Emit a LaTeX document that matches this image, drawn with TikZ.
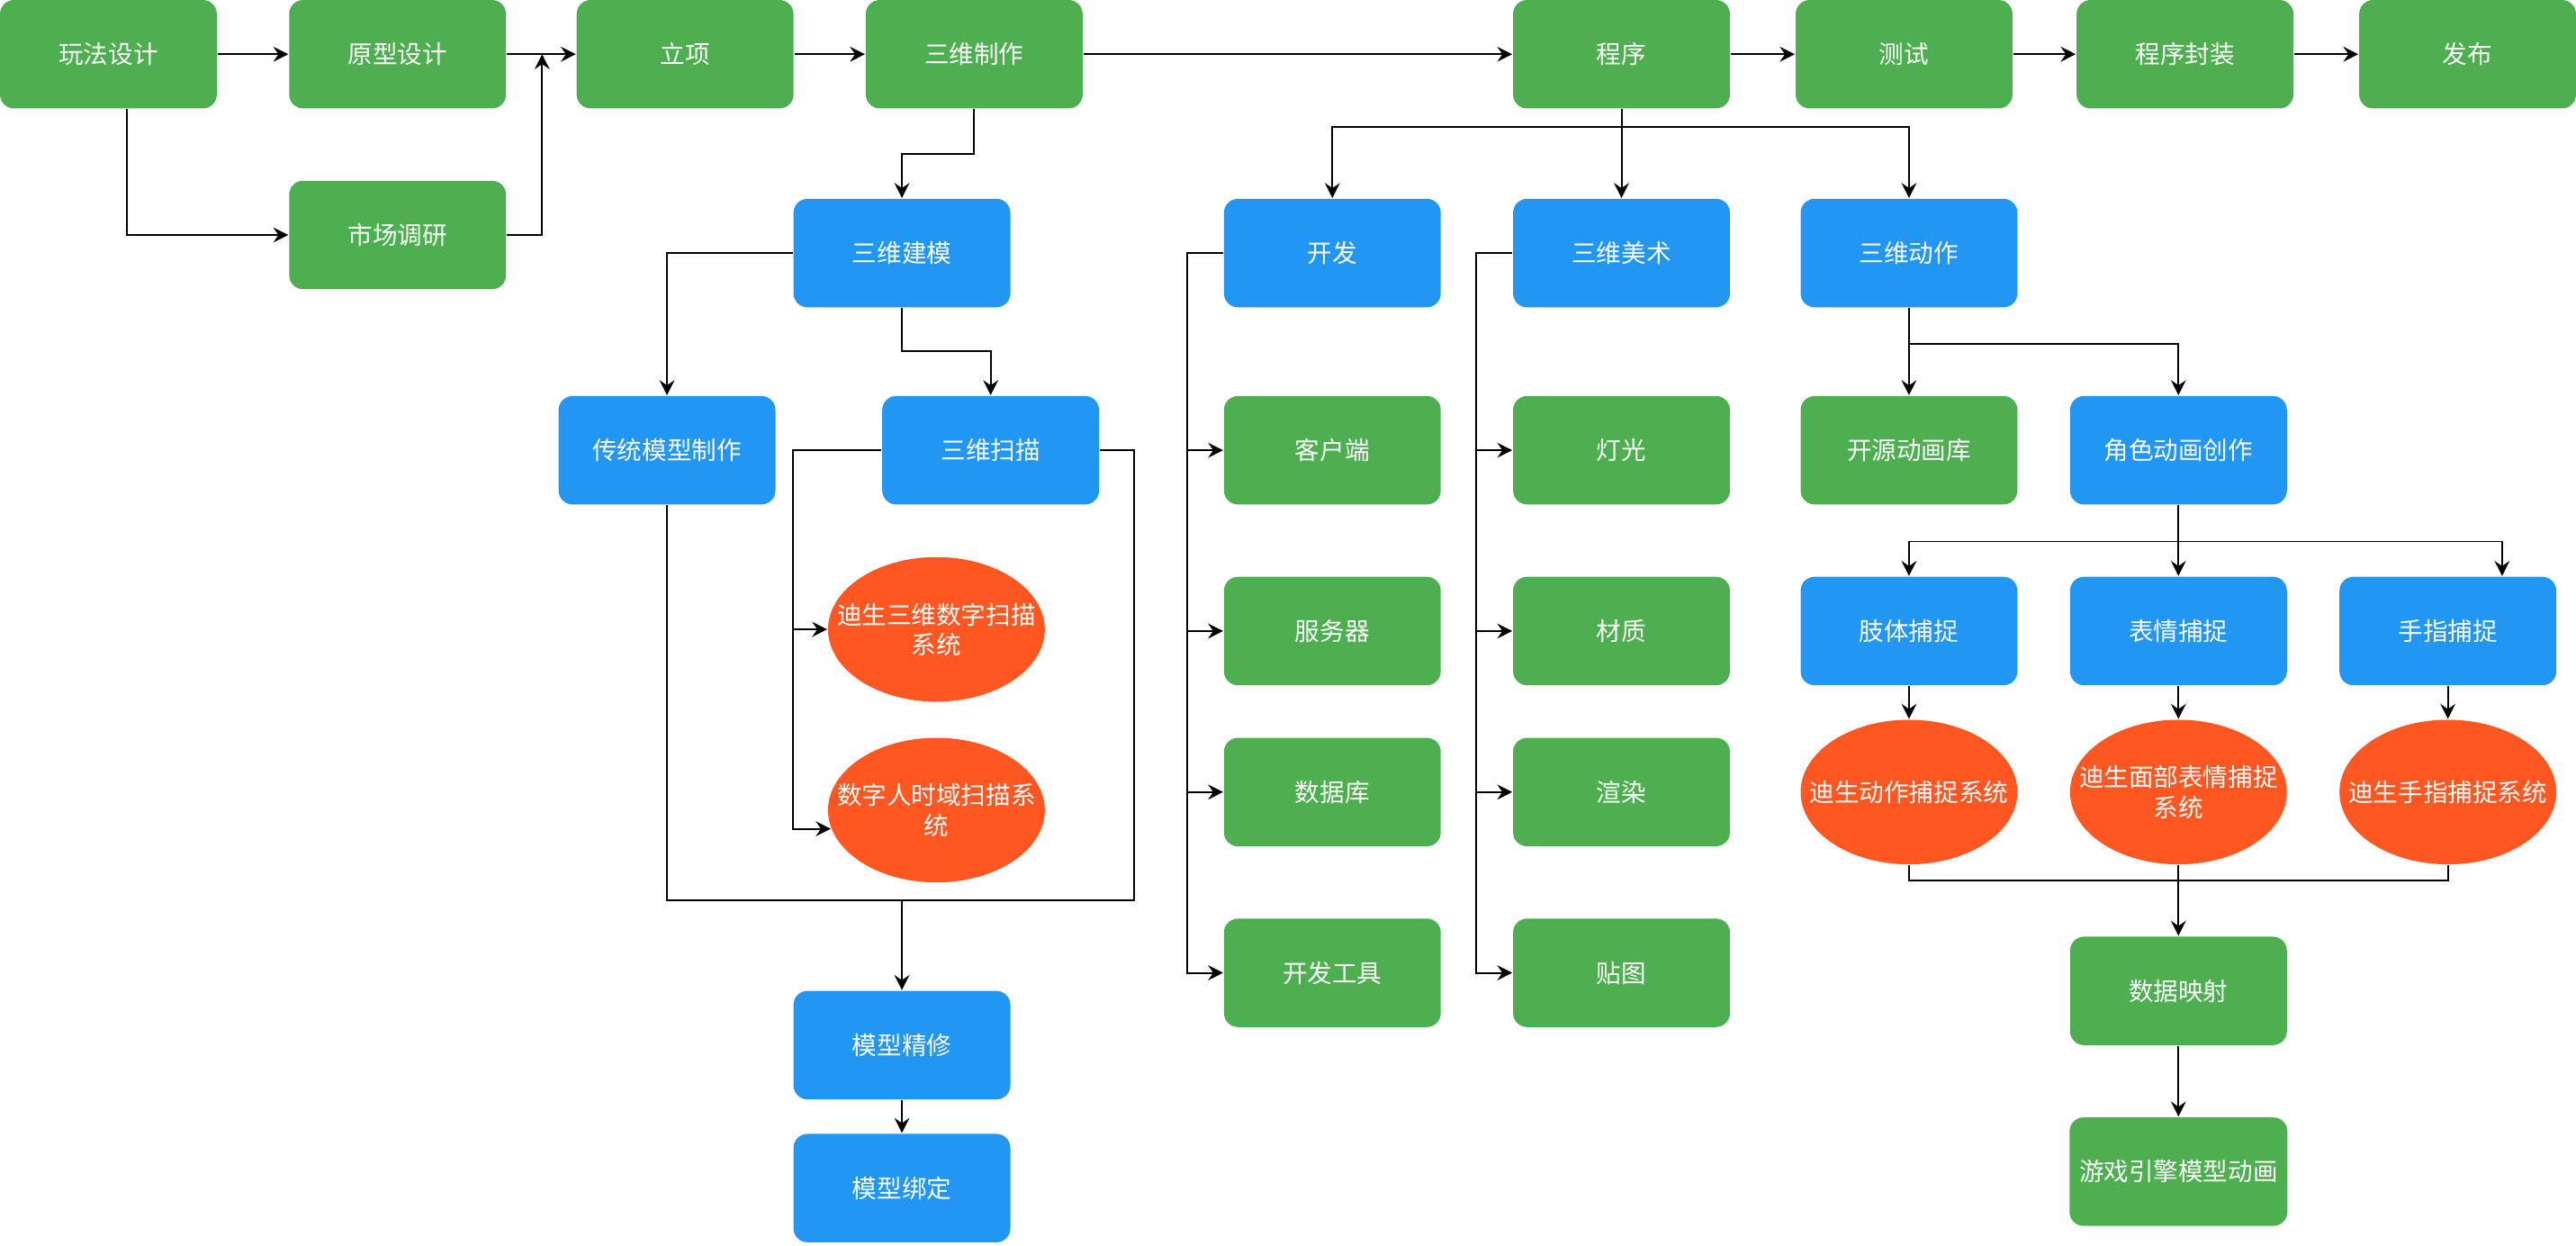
\documentclass[tikz,border=0pt]{standalone}
\usepackage{fontspec}
\setmainfont{Noto Sans CJK SC}
\usetikzlibrary{shapes.geometric,arrows.meta}
\definecolor{boxgreen}{RGB}{77,175,80}
\definecolor{boxblue}{RGB}{33,150,243}
\definecolor{boxorange}{RGB}{255,87,34}

\begin{document}
\begin{tikzpicture}[x=0.02cm,y=-0.02cm,line width=0.6pt,
    green node/.style={rectangle,rounded corners=0.17cm,fill=boxgreen,text=white,minimum width=2.64cm,minimum height=1.32cm,font=\fontsize{8.6pt}{10.4pt}\selectfont},
    blue node/.style={green node,fill=boxblue},
    orange node/.style={ellipse,fill=boxorange,text=white,minimum width=2.64cm,minimum height=1.76cm,inner xsep=-0.3cm,align=center,font=\fontsize{8.6pt}{10.4pt}\selectfont},
    arr/.style={-{Stealth[length=5.2pt,width=5.2pt,inset=1.8pt]}}]
    \useasboundingbox (0,0) rectangle (1568,758);

    \node[green node] (wf) at (66,33) {玩法设计};
    \node[green node] (yx) at (242,33) {原型设计};
    \node[green node] (sc) at (242,143) {市场调研};
    \node[green node] (lx) at (417,33) {立项};
    \node[green node] (zz) at (593,33) {三维制作};
    \node[green node] (cx) at (987,33) {程序};
    \node[green node] (cs) at (1159,33) {测试};
    \node[green node] (fz) at (1330,33) {程序封装};
    \node[green node] (fb) at (1502,33) {发布};

    \node[blue node] (jm) at (549,154) {三维建模};
    \node[blue node] (ct) at (406,274) {传统模型制作};
    \node[blue node] (sm) at (603,274) {三维扫描};
    \node[orange node] (e1) at (570,383) {迪生三维数字扫描\\系统};
    \node[orange node] (e2) at (570,493) {数字人时域扫描系\\统};
    \node[blue node] (jx) at (549,636) {模型精修};
    \node[blue node] (bd) at (549,723) {模型绑定};

    \node[blue node] (kf) at (811,154) {开发};
    \node[green node] (kh) at (811,274) {客户端};
    \node[green node] (fw) at (811,384) {服务器};
    \node[green node] (sj) at (811,482) {数据库};
    \node[green node] (gj) at (811,592) {开发工具};

    \node[blue node] (ms) at (987,154) {三维美术};
    \node[green node] (dg) at (987,274) {灯光};
    \node[green node] (cz) at (987,384) {材质};
    \node[green node] (xr) at (987,482) {渲染};
    \node[green node] (tt) at (987,592) {贴图};

    \node[blue node] (dz) at (1162,154) {三维动作};
    \node[green node] (ky) at (1162,274) {开源动画库};
    \node[blue node] (js) at (1326,274) {角色动画创作};
    \node[blue node] (zt) at (1162,384) {肢体捕捉};
    \node[blue node] (bq) at (1326,384) {表情捕捉};
    \node[blue node] (sz) at (1490,384) {手指捕捉};
    \node[orange node] (e3) at (1162,482) {迪生动作捕捉系统};
    \node[orange node] (e4) at (1326,482) {迪生面部表情捕捉\\系统};
    \node[orange node] (e5) at (1490,482) {迪生手指捕捉系统};
    \node[green node] (ys) at (1326,603) {数据映射};
    \node[green node] (yd) at (1326,713) {游戏引擎模型动画};

    \coordinate (up) at (330,33);
    \coordinate (m1) at (549,548);
    \coordinate (p1) at (987,77);
    \coordinate (m2) at (1326,536);

    \draw[arr] (wf) -- (yx);
    \draw[arr] (yx) -- (lx);
    \draw[arr] ([xshift=0.22cm]wf.south) |- (sc);
    \draw[arr] (sc) -| (up);
    \draw[arr] (lx) -- (zz);
    \draw[arr] (zz) -- (cx);
    \draw[arr] (cx) -- (cs);
    \draw[arr] (cs) -- (fz);
    \draw[arr] (fz) -- (fb);

    \draw[arr] (zz.south) -- ++(0,27) -| (jm.north);
    \draw[arr] (jm) -| (ct);
    \draw[arr] (jm.south) -- ++(0,26) -| (sm.north);
    \draw[arr] (sm.west) -- ++(-54,0) |- (e1);
    \draw[arr] (sm.west) -- ++(-54,0) |- (e2.190);
    \draw (sm.east) -- ++(21,0) |- (m1);
    \draw (ct.south) |- (m1);
    \draw[arr] (m1) -- (jx);
    \draw[arr] (jx) -- (bd);

    \draw (cx.south) -- (p1);
    \draw[arr] (p1) -| (kf);
    \draw[arr] (p1) -- (ms);
    \draw[arr] (p1) -| (dz);
    \foreach \n in {kh,fw,sj,gj}
        \draw[arr] (kf.west) -- ++(-22,0) |- (\n);
    \foreach \n in {dg,cz,xr,tt}
        \draw[arr] (ms.west) -- ++(-22,0) |- (\n);

    \draw[arr] (dz) -- (ky);
    \draw[arr] (dz.south) -- ++(0,22) -| (js);
    \draw[arr] (js.south) -- ++(0,22) -| (zt);
    \draw[arr] (js) -- (bq);
    \draw[arr] (js.south) -- ++(0,22) -| ([xshift=0.66cm]sz.north);
    \draw[arr] (zt) -- (e3);
    \draw[arr] (bq) -- (e4);
    \draw[arr] (sz) -- (e5);
    \draw (e3.south) |- (m2);
    \draw (e5.south) |- (m2);
    \draw[arr] (e4) -- (ys);
    \draw[arr] (ys) -- (yd);
\end{tikzpicture}
\end{document}
